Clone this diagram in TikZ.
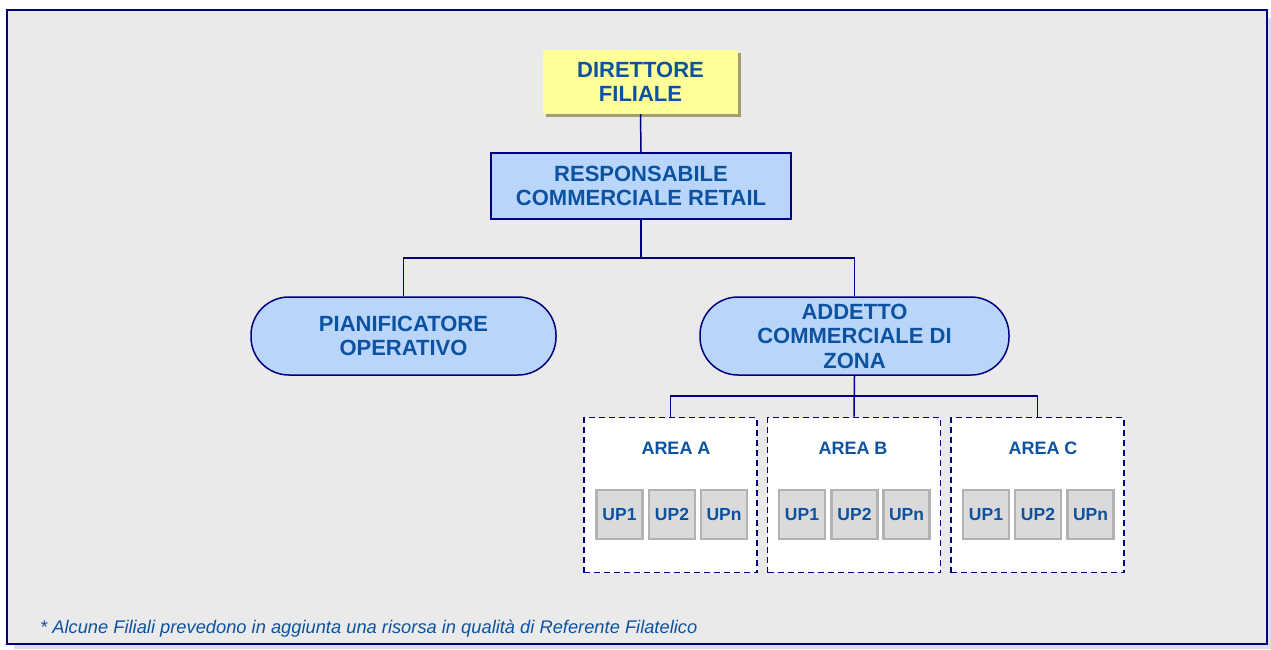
\documentclass[tikz,border=0pt]{standalone}
\usepackage{fontspec}
\setmainfont{Liberation Sans}
\usetikzlibrary{calc}
\definecolor{navy}{RGB}{0,0,128}
\definecolor{txtblue}{RGB}{12,82,160}
\definecolor{bggray}{RGB}{234,234,234}
\definecolor{lblue}{RGB}{185,214,250}
\definecolor{lyellow}{RGB}{255,255,153}
\definecolor{shadowc}{RGB}{160,160,110}
\definecolor{upfill}{RGB}{218,218,218}
\definecolor{upborder}{RGB}{178,178,178}
\definecolor{outshadow}{RGB}{222,222,222}
\tikzset{
  big/.style={font=\bfseries\fontsize{22}{24.5}\selectfont, text=txtblue, align=center},
  dirbox/.style={big, fill=lyellow, minimum width=195pt, minimum height=64pt, inner sep=0pt},
  respbox/.style={big, fill=lblue, draw=navy, line width=2pt, minimum width=300pt, minimum height=66pt, inner sep=0pt},
  roundbox/.style={big, fill=lblue, draw=navy, line width=1.5pt, rounded corners=38pt, minimum height=78pt, inner sep=0pt},
  areabox/.style={fill=white, draw=navy, line width=1.8pt, dash pattern=on 6pt off 4pt, minimum width=173pt, minimum height=155pt, inner sep=0pt},
  areatitle/.style={font=\bfseries\fontsize{18}{20}\selectfont, text=txtblue},
  upbox/.style={font=\bfseries\fontsize{17.5}{20}\selectfont, text=txtblue, fill=upfill, draw=upborder, line width=2.5pt, minimum width=46pt, minimum height=49pt, inner sep=0pt},
  conn/.style={draw=navy, line width=1.5pt},
  note/.style={font=\itshape\fontsize{18.3}{20}\selectfont, text=txtblue, anchor=base west, inner sep=0pt}
}
\begin{document}
\begin{tikzpicture}[x=1pt,y=-1pt]
\useasboundingbox (0,0) rectangle (1271,649);
\fill[white] (0,0) rectangle (1271,649);
% outer shadow
\fill[outshadow] (14,644) rectangle (1271,649);
\fill[outshadow] (1267,18) rectangle (1271,649);
% frame
\draw[fill=bggray, draw=navy, line width=1.5pt] (7,10) rectangle (1267,644);

% director
\fill[shadowc] (546,53) rectangle (741,117);
\node[dirbox] (dir) at (640.5,82) {DIRETTORE\\FILIALE};
% responsabile
\node[respbox] (resp) at (641,186) {RESPONSABILE\\COMMERCIALE RETAIL};
% rounded
\node[roundbox, minimum width=305pt] (pian) at (403.5,336) {PIANIFICATORE\\OPERATIVO};
\node[roundbox, minimum width=309pt] (add) at (854.5,336) {ADDETTO\\COMMERCIALE DI\\ZONA};

% areas
\node[areabox] (aA) at (670.5,495) {};
\node[areabox] (aB) at (854,495) {};
\node[areabox] (aC) at (1037.5,495) {};
\node[areatitle] (tA) at (676,448) {AREA A};
\node[areatitle] (tB) at (853,448) {AREA B};
\node[areatitle] (tC) at (1043,448) {AREA C};

\node[upbox] (a1) at (619.5,514.5) {UP1};
\node[upbox] (a2) at (672,514.5) {UP2};
\node[upbox] (a3) at (724,514.5) {UPn};
\node[upbox] (b1) at (802,514.5) {UP1};
\node[upbox] (b2) at (854.5,514.5) {UP2};
\node[upbox] (b3) at (906.5,514.5) {UPn};
\node[upbox] (c1) at (986,514.5) {UP1};
\node[upbox] (c2) at (1038,514.5) {UP2};
\node[upbox] (c3) at (1090.5,514.5) {UPn};

% connectors
\coordinate (h1) at (641,258);
\coordinate (h2) at (854.5,396);
\draw[conn] (dir.south) -- (resp.north);
\draw[conn] (resp.south) -- (h1);
\draw[conn] (pian.north) |- (h1) -| (add.north);
\draw[conn] (add.south) -- (aB.north);
\draw[conn] (aA.north) |- (h2) -| (aC.north);

% footnote
\node[note] (fn) at (40,633) {* Alcune Filiali prevedono in aggiunta una risorsa in qualità di Referente Filatelico};
\end{tikzpicture}
\end{document}
